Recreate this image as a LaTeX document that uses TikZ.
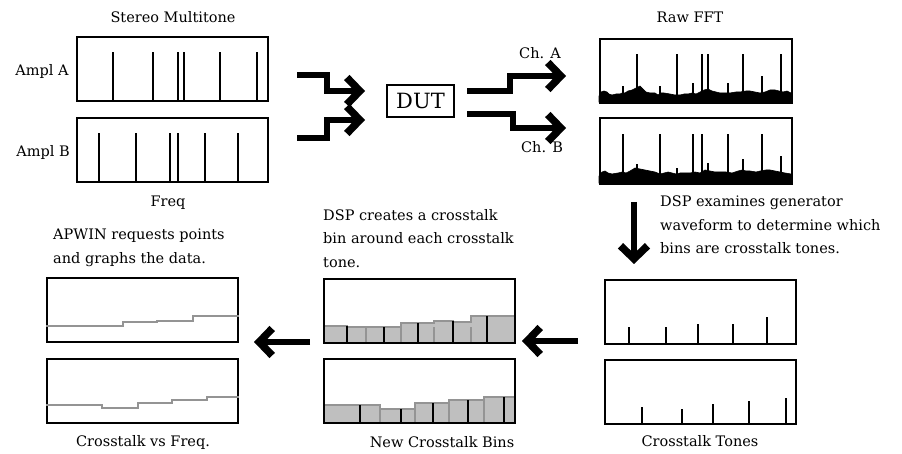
\documentclass[tikz,border=0pt]{standalone}
\usepackage{fontspec}
\setmainfont{DejaVu Serif}
\usetikzlibrary{arrows.meta}
\begin{document}
\begin{tikzpicture}[x=1pt,y=-1pt,
  panel/.style={draw=black,line width=1.8pt,rectangle,inner sep=0pt,anchor=north west,minimum width=191pt,minimum height=64pt},
  lbl/.style={inner sep=0pt,font=\fontsize{14.5}{23.5}\selectfont},
  para/.style={lbl,align=left,anchor=north west},
  spike/.style={line width=1.8pt,black},
  tone/.style={line width=1.8pt,black},
  grayline/.style={line width=1.6pt,color=black!42},
  fatarrow/.style={line width=6pt,-{Straight Barb[length=13pt,width=27pt,line width=7.5pt]}},
  noise/.style={fill=black,draw=black,line width=0.6pt}]
\useasboundingbox (0,0) rectangle (902,454);

% ---------- titles and labels ----------
\node[lbl] (tStereo) at (173,17) {Stereo Multitone};
\node[lbl] (tFFT) at (690,17) {Raw FFT};
\node[lbl] (tAmplA) at (42,72) {Ampl A};
\node[lbl] (tAmplB) at (43,153) {Ampl B};
\node[lbl] (tFreq) at (168,203) {Freq};
\node[lbl] (tChA) at (540,53) {Ch. A};
\node[lbl] (tChB) at (542,147) {Ch. B};
\node[para] (tApwin) at (53,229) {APWIN requests points\\and graphs the data.};
\node[para] (tCreates) at (323,209) {DSP creates a crosstalk\\bin around each crosstalk\\tone.};
\node[para] (tExamines) at (660,196) {DSP examines generator\\waveform to determine which\\bins are crosstalk tones.};
\node[lbl] (tCvF) at (143,442) {Crosstalk vs Freq.};
\node[lbl] (tNew) at (442,442) {New Crosstalk Bins};
\node[lbl] (tTones) at (700,441) {Crosstalk Tones};

% ---------- DUT ----------
\node[draw,line width=1.2pt,minimum width=67pt,minimum height=32pt,inner sep=0pt,
      font=\fontsize{21}{24}\selectfont] (dut) at (420.5,101) {DUT};

% ---------- stereo multitone panels ----------
\node[panel] (smA) at (76,36) {};
\node[panel] (smB) at (76,117) {};
\foreach \x in {113,153,178,184,220,257} \draw[spike] (\x,100) -- (\x,52);
\foreach \x in {99,136,170,178,205,238} \draw[spike] (\x,181) -- (\x,133);

% ---------- raw FFT panels ----------
\node[panel,minimum width=192pt] (fftA) at (599,38) {};
\node[panel,minimum width=192pt,minimum height=66pt] (fftB) at (599,117) {};
\fill[noise] (599,102) -- (599,96) -- (601,92) -- (604,91) -- (607,92) -- (609,94) -- (612,95) -- (616,94) -- (620,94) -- (622,93) -- (625,93) -- (628,91) -- (632,90) -- (636,88) -- (640,86) -- (643,89) -- (646,92) -- (650,93) -- (655,93) -- (658,95) -- (661,93) -- (664,93) -- (670,94) -- (675,95) -- (680,95) -- (684,94) -- (688,94) -- (692,93) -- (696,94) -- (700,92) -- (704,90) -- (708,89) -- (712,91) -- (716,92) -- (720,93) -- (726,93) -- (730,93) -- (736,92) -- (740,92) -- (746,91) -- (750,91) -- (755,92) -- (760,93) -- (765,92) -- (770,90) -- (775,90) -- (779,91) -- (783,92) -- (787,91) -- (791,93) -- (791,102) -- cycle;
\foreach \x in {637,677,702,708,743,781} \draw[spike] (\x,95) -- (\x,54);
\foreach \x/\t in {623/86,660/86,693/83,728/83,762/76} \draw[spike] (\x,95) -- (\x,\t);
\fill[noise] (599,183) -- (599,176) -- (602,172) -- (605,171) -- (608,173) -- (612,174) -- (618,173) -- (622,172) -- (626,173) -- (630,171) -- (635,168) -- (640,169) -- (645,170) -- (650,171) -- (655,172) -- (660,174) -- (664,173) -- (668,172) -- (672,173) -- (676,174) -- (680,173) -- (686,173) -- (690,173) -- (695,172) -- (700,173) -- (705,170) -- (710,171) -- (715,172) -- (720,172) -- (726,172) -- (732,173) -- (738,171) -- (742,170) -- (746,171) -- (750,171) -- (756,172) -- (760,171) -- (766,170) -- (770,170) -- (775,171) -- (780,172) -- (785,173) -- (791,174) -- (791,183) -- cycle;
\foreach \x in {623,660,693,702,728,762} \draw[spike] (\x,175) -- (\x,134);
\foreach \x/\t in {637/164,677/168,708/163,743/159,781/156} \draw[spike] (\x,175) -- (\x,\t);

% ---------- crosstalk tones panels ----------
\node[panel] (ctA) at (604,279) {};
\node[panel] (ctB) at (604,359) {};
\foreach \x/\t in {629/327,666/327,698/324,733/324,767/317} \draw[tone] (\x,343) -- (\x,\t);
\foreach \x/\t in {642/407,682/409,713/404,749/401,786/398} \draw[tone] (\x,423) -- (\x,\t);

% ---------- new crosstalk bins panels ----------
\begin{scope}
\foreach \a/\b/\t in {323/347/326,347/366/327,366/384/327,384/401/327,401/418/323,418/434/323,434/453/321,453/471/322,471/487/316,487/514/316}
  \fill[black!25] (\a,342) rectangle (\b,\t);
\draw[grayline,line width=1.2pt] (323,326) -- (347,326) -- (347,327) -- (401,327) -- (401,323) -- (434,323) -- (434,321) -- (453,321) -- (453,322) -- (471,322) -- (471,316) -- (514,316);
\foreach \x in {366,401,434,471} \draw[grayline,line width=1.2pt] (\x,342) -- (\x,327);
\foreach \x/\t in {347/326,384/327,418/323,453/321,487/316} \draw[line width=1.6pt] (\x,342) -- (\x,\t);
\foreach \a/\b/\t in {323/360/405,360/380/405,380/401/409,401/415/409,415/433/403,433/449/403,449/468/400,468/484/400,484/504/397,504/514/397}
  \fill[black!25] (\a,422) rectangle (\b,\t);
\draw[grayline,line width=1.2pt] (323,405) -- (380,405) -- (380,409) -- (415,409) -- (415,403) -- (449,403) -- (449,400) -- (484,400) -- (484,397) -- (514,397);
\foreach \x/\t in {380/405,415/403,449/400,484/397} \draw[grayline,line width=1.2pt] (\x,422) -- (\x,\t);
\foreach \x/\t in {360/405,401/409,433/403,468/400,504/397} \draw[line width=1.6pt] (\x,422) -- (\x,\t);
\end{scope}
\node[panel] (nbA) at (323,278) {};
\node[panel] (nbB) at (323,358) {};

% ---------- crosstalk vs freq panels ----------
\node[panel] (cvA) at (46,277) {};
\node[panel] (cvB) at (46,358) {};
\draw[grayline] (cvA.west |- 0,326) -- (123,326) -- (123,322) -- (157,322) -- (157,321) -- (193,321) -- (193,316) -- (cvA.east |- 0,316);
\draw[grayline] (cvB.west |- 0,405) -- (102,405) -- (102,408) -- (138,408) -- (138,403) -- (172,403) -- (172,400) -- (207,400) -- (207,397) -- (cvB.east |- 0,397);

% ---------- arrows ----------
\coordinate (inA) at (297,75);
\coordinate (inB) at (297,138);
\coordinate (dutInA) at (365,91);
\coordinate (dutInB) at (365,120);
\coordinate (outA) at (467,91);
\coordinate (outB) at (467,114);
\coordinate (fftInA) at (566,76);
\coordinate (fftInB) at (566,128);
\draw[fatarrow] (inA) -- (327,75) -- (327,91) -- (dutInA);
\draw[fatarrow] (inB) -- (327,138) -- (327,120) -- (dutInB);
\draw[fatarrow] (outA) -- (510,91) -- (510,76) -- (fftInA);
\draw[fatarrow] (outB) -- (513,114) -- (513,128) -- (fftInB);

\coordinate (downS) at (634,202);
\coordinate (downE) at (634,264);
\draw[fatarrow] (downS) -- (downE);
\coordinate (lArrS) at (578,341);
\coordinate (lArrE) at (522,341);
\draw[fatarrow] (lArrS) -- (lArrE);
\coordinate (rArrS) at (310,342);
\coordinate (rArrE) at (254,342);
\draw[fatarrow] (rArrS) -- (rArrE);
\end{tikzpicture}
\end{document}
